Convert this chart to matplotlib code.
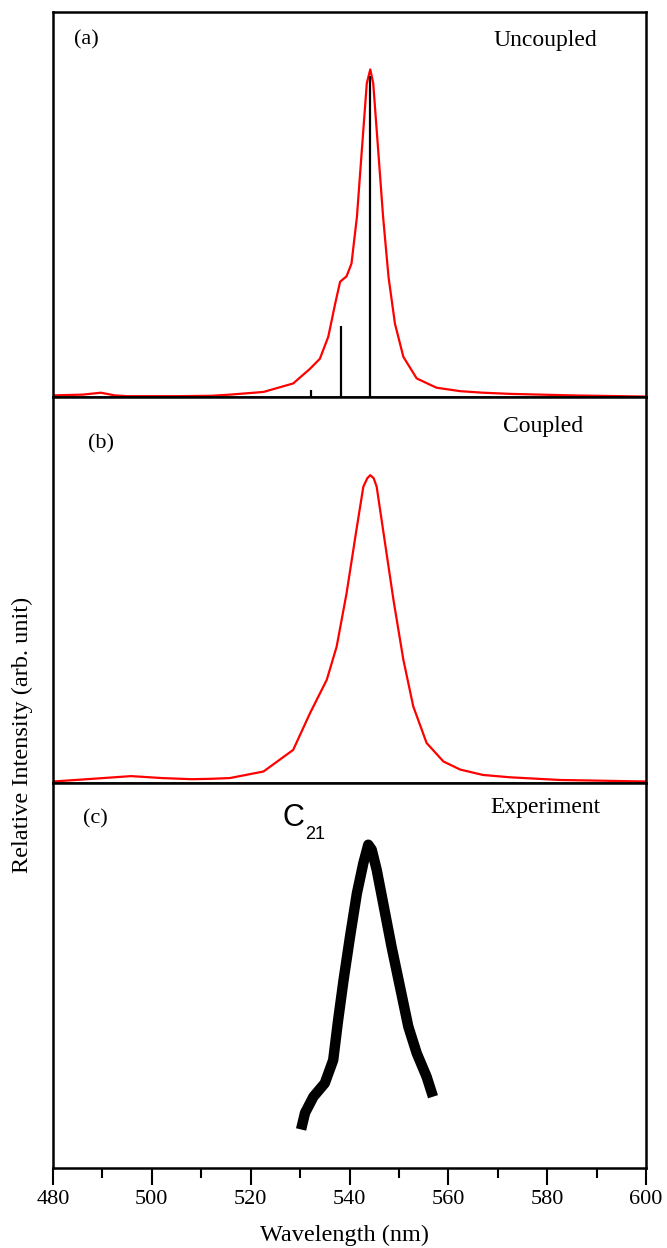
import numpy as np
import matplotlib.pyplot as plt
from matplotlib.ticker import MultipleLocator

plt.rcParams['font.family'] = ['Liberation Serif', 'DejaVu Serif']

# (a) uncoupled: calculated spectrum and stick transitions
wl_a = [480, 486, 489.7, 492.5, 495, 505, 512, 515.8, 522.6, 528.6, 532.0,
        534.0, 535.7, 537.1, 538.1, 539.4, 540.4, 541.5, 542.5, 543.5, 544.2,
        544.8, 545.8, 546.8, 547.9, 549.2, 550.9, 553.6, 557.6, 562.4, 567,
        572.4, 585, 600]
int_a = [0.005, 0.007, 0.012, 0.005, 0.003, 0.003, 0.004, 0.007, 0.014, 0.036,
         0.074, 0.10, 0.157, 0.243, 0.30, 0.314, 0.347, 0.468, 0.642, 0.815,
         0.851, 0.815, 0.642, 0.468, 0.312, 0.191, 0.105, 0.049, 0.025, 0.016,
         0.012, 0.009, 0.005, 0.002]
stick_wl = [532.2, 538.2, 544.1]
stick_int = [0.018, 0.184, 0.834]

# (b) coupled
wl_b = [480, 488, 495.8, 502, 508, 512, 515.8, 522.6, 528.6, 532.0, 535.4,
        537.4, 539.4, 541.5, 542.8, 543.6, 544.2, 544.9, 545.5, 547.2, 548.9,
        550.9, 552.9, 555.6, 559.0, 562.4, 567, 572.4, 582.5, 600]
int_b = [0.003, 0.01, 0.017, 0.012, 0.009, 0.01, 0.012, 0.029, 0.085, 0.18,
         0.267, 0.353, 0.491, 0.664, 0.768, 0.79, 0.798, 0.79, 0.768, 0.621,
         0.474, 0.319, 0.198, 0.103, 0.055, 0.034, 0.02, 0.014, 0.007, 0.003]

# (c) experiment
wl_c = [530.2, 531.0, 532.7, 535.0, 536.7, 537.7, 538.8, 540.1, 541.5, 542.8,
        543.8, 544.5, 545.5, 546.8, 548.5, 550.2, 551.9, 553.6, 555.6, 556.9]
int_c = [0.10, 0.143, 0.185, 0.22, 0.28, 0.384, 0.488, 0.60, 0.713, 0.791,
         0.839, 0.826, 0.774, 0.688, 0.575, 0.471, 0.367, 0.298, 0.237, 0.185]

red = '#ff0000'

fig = plt.figure(figsize=(6.67, 12.48), dpi=100)
gs = fig.add_gridspec(3, 1, left=53/667, right=646/667,
                      bottom=1-1168/1248, top=1-12/1248, hspace=0)
axes = [fig.add_subplot(gs[i]) for i in range(3)]

axes[0].plot(wl_a, int_a, color=red, lw=1.6)
axes[0].vlines(stick_wl, 0, stick_int, color='black', lw=1.6)
axes[1].plot(wl_b, int_b, color=red, lw=1.6)
axes[2].plot(wl_c, int_c, color='black', lw=7.5, solid_capstyle='butt',
             solid_joinstyle='round')

for ax in axes:
    ax.set_xlim(480, 600)
    ax.set_ylim(0, 1)
    ax.set_yticks([])
    for s in ax.spines.values():
        s.set_linewidth(1.8)
for ax in axes[:2]:
    ax.tick_params(axis='x', which='both', bottom=False, labelbottom=False)

axes[2].xaxis.set_major_locator(MultipleLocator(20))
axes[2].xaxis.set_minor_locator(MultipleLocator(10))
axes[2].tick_params(axis='x', which='major', direction='out', length=12,
                    width=1.5, pad=3.5, labelsize=16)
axes[2].tick_params(axis='x', which='minor', direction='out', length=7, width=1.5)

# panel labels
axes[0].text(0.057, 0.927, '(a)', transform=axes[0].transAxes, fontsize=16,
             ha='center', va='center')
axes[0].text(0.831, 0.927, 'Uncoupled', transform=axes[0].transAxes,
             fontsize=17, ha='center', va='center')
axes[1].text(0.081, 0.878, '(b)', transform=axes[1].transAxes, fontsize=16,
             ha='center', va='center')
axes[1].text(0.826, 0.925, 'Coupled', transform=axes[1].transAxes,
             fontsize=17, ha='center', va='center')
axes[2].text(0.072, 0.906, '(c)', transform=axes[2].transAxes, fontsize=16,
             ha='center', va='center')
axes[2].text(0.83, 0.935, 'Experiment', transform=axes[2].transAxes,
             fontsize=17, ha='center', va='center')
axes[2].text(0.405, 0.909, 'C', transform=axes[2].transAxes, fontsize=22,
             family='Liberation Sans', ha='center', va='center')
axes[2].text(0.425, 0.865, '21', transform=axes[2].transAxes, fontsize=13,
             family='Liberation Sans', ha='left', va='center')

fig.text(22/667, 1-735/1248, 'Relative Intensity (arb. unit)', rotation=90,
         fontsize=17.5, ha='center', va='center')
fig.text(344/667, 1-1235/1248, 'Wavelength (nm)', fontsize=17.5,
         ha='center', va='center')

fig.savefig('out.png', dpi=100)
